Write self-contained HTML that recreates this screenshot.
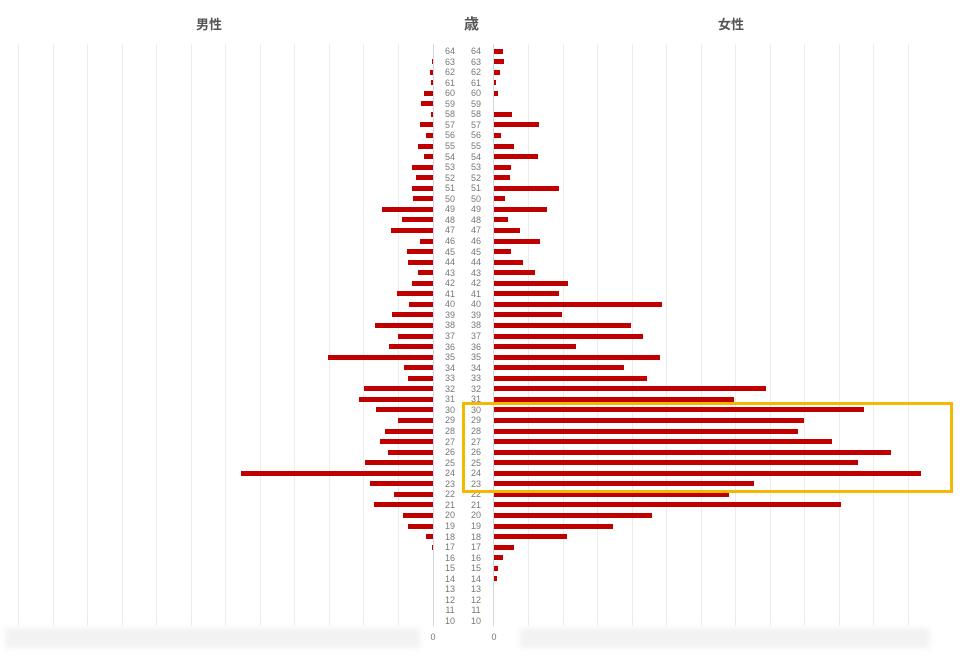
<!DOCTYPE html>
<html><head><meta charset="utf-8"><style>
body{margin:0;background:#fff;width:975px;height:664px;overflow:hidden;position:relative;font-family:"Liberation Sans","Noto Sans CJK JP",sans-serif}
.h{position:absolute;top:14px;font-size:13px;font-weight:bold;color:#555}
.g{position:absolute;top:44px;height:582px;width:1px;background:#ececec}
.ax{position:absolute;top:44px;height:582px;width:1px;background:#d0d8e8}
.b{position:absolute;height:5px;background:#c00000}
.l{position:absolute;font-size:9px;color:#777;width:20px;text-align:center;line-height:10px}
.blur{position:absolute;top:628px;height:20px;background:#f2f2f2;filter:blur(3px)}
</style></head><body>
<div class="h" style="left:196px">男性</div>
<div class="h" style="left:464px;font-size:15px;top:13px">歳</div>
<div class="h" style="left:718px">女性</div>
<div class="blur" style="left:5px;width:415px"></div>
<div class="blur" style="left:520px;width:410px"></div>
<div class="l" style="left:423px;top:632px">0</div>
<div class="l" style="left:484px;top:632px">0</div>
<div id="c"></div>
<div style="position:absolute;left:462px;top:402px;width:485px;height:85px;border:3px solid #f5b800"></div>
<script>
var h='';
for(var i=0;i<12;i++){h+='<div class="g" style="left:'+(18+i*34.5)+'px"></div>';h+='<div class="g" style="left:'+(528+i*34.5)+'px"></div>';}
h+='<div class="ax" style="left:433px"></div><div class="ax" style="left:493px"></div>';
var m={63:432,62:430,61:431,60:424,59:421,58:431,57:420,56:426,55:418,54:424,53:412,52:416,51:412,50:413,49:382,48:402,47:391,46:420,45:407,44:408,43:418,42:412,41:397,40:409,39:392,38:375,37:398,36:389,35:328,34:404,33:408,32:364,31:359,30:376,29:398,28:385,27:380,26:388,25:365,24:241,23:370,22:394,21:374,20:403,19:408,18:426,17:432};
var f={64:503,63:504,62:500,61:496,60:498,58:512,57:539,56:501,55:514,54:538,53:511,52:510,51:559,50:505,49:547,48:508,47:520,46:540,45:511,44:523,43:535,42:568,41:559,40:662,39:562,38:631,37:643,36:576,35:660,34:624,33:647,32:766,31:734,30:864,29:804,28:798,27:832,26:891,25:858,24:921,23:754,22:729,21:841,20:652,19:613,18:567,17:514,16:503,15:498,14:497};
for(var a=64;a>=10;a--){var y=51+(64-a)*10.556;
h+='<div class="l" style="left:440px;top:'+(y-5)+'px">'+a+'</div><div class="l" style="left:466px;top:'+(y-5)+'px">'+a+'</div>';
if(m[a])h+='<div class="b" style="left:'+m[a]+'px;width:'+(433-m[a])+'px;top:'+(y-2.5)+'px"></div>';
if(f[a])h+='<div class="b" style="left:494px;width:'+(f[a]-494)+'px;top:'+(y-2.5)+'px"></div>';}
document.getElementById('c').innerHTML=h;
</script>
</body></html>
